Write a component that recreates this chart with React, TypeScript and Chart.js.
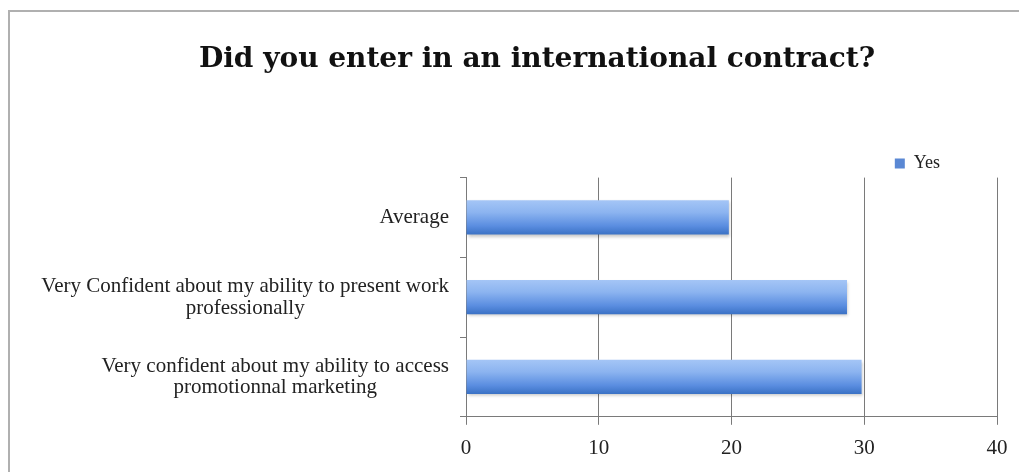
import React, { useEffect, useRef } from "react";
import { Chart, registerables } from "chart.js";

Chart.register(...registerables);

const TITLE = "Did you enter in an international contract?";
const SERIES_NAME = "Yes";
const CATEGORIES: string[][] = [
  ["Average"],
  ["Very Confident about my ability to present work", "professionally"],
  ["Very confident about my ability to access", "promotionnal marketing"],
];
const VALUES: number[] = [19.8, 28.7, 29.8];
const X_MIN = 0;
const X_MAX = 40;
const X_STEP = 10;

const SERIF = '"Liberation Serif", "Times New Roman", serif';
const TITLE_FONT = '"DejaVu Serif", "Liberation Serif", serif';
const Y_FONT_SIZE = 21;
const Y_LINE_H = 21.6;
const Y_TICK_LEN = 6;
const Y_TICK_PAD = 11;
const BAR_PCT = 0.43;
const GRID = "#7a7a7a";
const LEGEND_COLOR = "#5a88d4";
const LEGEND_SHIFT = 5;

const yLabelPlugin = {
  id: "yLabelsCentered",
  afterLayout(chart: any) {
    if (chart.legend) {
      chart.legend.top += LEGEND_SHIFT;
      chart.legend.bottom += LEGEND_SHIFT;
    }
  },
  beforeDatasetsDraw(chart: any) {
    const ctx = chart.ctx;
    ctx.save();
    ctx.shadowColor = "rgba(0,0,0,0.22)";
    ctx.shadowBlur = 3;
    ctx.shadowOffsetY = 2;
    ctx.shadowOffsetX = 1;
  },
  afterDatasetsDraw(chart: any) {
    chart.ctx.restore();
  },
  afterDraw(chart: any) {
    const s = chart.scales.y;
    const ctx = chart.ctx;
    ctx.save();
    ctx.font = `${Y_FONT_SIZE}px ${SERIF}`;
    ctx.fillStyle = "#222";
    ctx.textAlign = "center";
    ctx.textBaseline = "middle";
    const right = s.right - Y_TICK_LEN - Y_TICK_PAD;
    CATEGORIES.forEach((lines, i) => {
      const w = Math.max(...lines.map((l) => ctx.measureText(l).width));
      const cx = right - w / 2;
      const y0 = s.getPixelForTick(i) - ((lines.length - 1) * Y_LINE_H) / 2;
      lines.forEach((l, j) => ctx.fillText(l, cx, y0 + j * Y_LINE_H));
    });
    ctx.restore();
  },
};

export default function App() {
  const ref = useRef<HTMLCanvasElement | null>(null);

  useEffect(() => {
    if (!ref.current) return;
    const chart = new Chart(ref.current, {
      type: "bar",
      data: {
        labels: CATEGORIES,
        datasets: [
          {
            label: SERIES_NAME,
            data: VALUES,
            borderWidth: 0,
            categoryPercentage: 1,
            barPercentage: BAR_PCT,
            backgroundColor: (c: any) => {
              const chart = c.chart;
              const sy = chart.scales && chart.scales.y;
              if (c.type !== "data" || !sy || sy.height === undefined) return LEGEND_COLOR;
              const y = sy.getPixelForValue(c.dataIndex);
              const half = ((sy.height / CATEGORIES.length) * BAR_PCT) / 2;
              if (!isFinite(y) || !isFinite(half)) return LEGEND_COLOR;
              const g = chart.ctx.createLinearGradient(0, y - half, 0, y + half);
              g.addColorStop(0, "#a4c5f6");
              g.addColorStop(0.35, "#8cb4f0");
              g.addColorStop(0.75, "#5a8de0");
              g.addColorStop(1, "#3a71c4");
              return g;
            },
          },
        ],
      },
      options: {
        indexAxis: "y",
        responsive: false,
        animation: false,
        devicePixelRatio: 1,
        layout: { padding: { left: 67, right: 67, top: 0, bottom: 10 } },
        plugins: {
          title: {
            display: true,
            text: TITLE,
            color: "#111",
            font: { family: TITLE_FONT, size: 28, weight: "bold", lineHeight: 1.2 },
            padding: { top: 31, bottom: 16 },
          },
          legend: {
            display: true,
            position: "top",
            align: "end",
            labels: {
              boxWidth: 10,
              boxHeight: 10,
              padding: 57,
              color: "#222",
              font: { family: SERIF, size: 18 },
              generateLabels: (chart: any) =>
                Chart.defaults.plugins.legend.labels
                  .generateLabels(chart)
                  .map((it: any) => ({ ...it, fillStyle: LEGEND_COLOR, lineWidth: 0 })),
            },
          },
          tooltip: { enabled: false },
        },
        scales: {
          x: {
            min: X_MIN,
            max: X_MAX,
            ticks: {
              stepSize: X_STEP,
              color: "#222",
              padding: 11,
              font: { family: SERIF, size: 21 },
            },
            grid: {
              color: GRID,
              lineWidth: 1,
              drawTicks: true,
              tickLength: 8,
              tickColor: GRID,
            },
            border: { display: true, color: GRID, width: 1 },
          },
          y: {
            afterFit: (scale: any) => {
              scale.width = 389;
            },
            ticks: {
              color: "rgba(0,0,0,0)",
              padding: Y_TICK_PAD,
              font: { family: SERIF, size: Y_FONT_SIZE },
            },
            grid: {
              offset: true,
              drawOnChartArea: false,
              drawTicks: true,
              tickLength: Y_TICK_LEN,
              color: GRID,
              tickColor: GRID,
            },
            border: { display: true, color: GRID, width: 1 },
          },
        },
      },
      plugins: [yLabelPlugin],
    } as any);
    return () => chart.destroy();
  }, []);

  return (
    <div
      style={{
        position: "absolute",
        left: 0,
        top: 0,
        width: 1019,
        height: 472,
        overflow: "hidden",
        background: "#fff",
      }}
    >
      <div
        style={{
          position: "absolute",
          left: 8,
          top: 10,
          border: "2px solid #b0b0b0",
          width: 1054,
          height: 470,
        }}
      >
        <canvas ref={ref} width={1054} height={470} style={{ display: "block" }} />
      </div>
    </div>
  );
}
